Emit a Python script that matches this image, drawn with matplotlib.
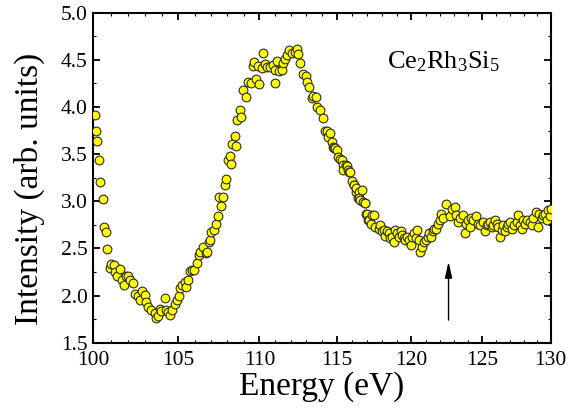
import numpy as np
import matplotlib
matplotlib.use("Agg")
import matplotlib.pyplot as plt
from matplotlib.ticker import FixedLocator, FixedFormatter, NullFormatter, MultipleLocator, FormatStrFormatter

plt.rcParams['font.family'] = ['Liberation Serif', 'DejaVu Serif']
plt.rcParams['mathtext.fontset'] = 'custom'
plt.rcParams['mathtext.rm'] = 'Liberation Serif'

# photon energy (eV) and intensity
energy = [100.08, 100.14, 100.23, 100.31, 100.40, 100.54, 100.62, 100.71, 100.81, 100.95,
          101.04, 101.18, 101.25, 101.37, 101.53, 101.68, 101.76, 101.88, 102.03, 102.15,
          102.30, 102.40, 102.60, 102.70, 102.85, 103.00, 103.09, 103.19, 103.38, 103.59,
          103.68, 103.78, 103.88, 103.98, 104.18, 104.24, 104.38, 104.48, 104.63, 104.78,
          104.92, 105.04, 105.12, 105.24, 105.38, 105.48, 105.58, 105.68, 105.84, 105.96,
          106.13, 106.25, 106.33, 106.49, 106.66, 106.74, 106.86, 106.94, 107.01, 107.15,
          107.28, 107.42, 107.48, 107.62, 107.72, 107.83, 107.89, 108.03, 108.14, 108.24,
          108.30, 108.45, 108.51, 108.59, 108.76, 108.86, 108.99, 109.15, 109.30, 109.44,
          109.61, 109.64, 109.77, 109.93, 109.99, 110.14, 110.22, 110.36, 110.46, 110.67,
          110.84, 110.99, 111.01, 111.10, 111.26, 111.42, 111.52, 111.63, 111.78, 111.91,
          112.06, 112.27, 112.38, 112.49, 112.60, 112.81, 112.98, 113.03, 113.19, 113.35,
          113.45, 113.63, 113.71, 113.88, 114.10, 114.21, 114.32, 114.43, 114.55, 114.66,
          114.71, 114.81, 114.86, 114.99, 115.10, 115.19, 115.32, 115.40, 115.43, 115.61,
          115.67, 115.76, 115.80, 115.87, 115.99, 116.11, 116.14, 116.24, 116.27, 116.40,
          116.43, 116.49, 116.50, 116.65, 116.76, 116.84, 116.88, 116.96, 116.99, 117.06,
          117.10, 117.26, 117.33, 117.44, 117.56, 117.78, 117.90, 118.01, 118.12, 118.24,
          118.35, 118.47, 118.58, 118.69, 118.81, 118.92, 119.04, 119.15, 119.27, 119.38,
          119.50, 119.61, 119.73, 119.84, 119.96, 120.07, 120.19, 120.31, 120.43, 120.54,
          120.61, 120.78, 120.90, 121.02, 121.14, 121.25, 121.37, 121.49, 121.61, 121.73,
          121.85, 121.97, 122.09, 122.21, 122.44, 122.68, 122.84, 123.03, 123.15, 123.27,
          123.39, 123.63, 123.74, 123.86, 123.98, 124.10, 124.22, 124.34, 124.58, 124.70,
          124.82, 125.06, 125.18, 125.30, 125.42, 125.55, 125.67, 125.79, 125.91, 126.03,
          126.15, 126.27, 126.39, 126.51, 126.63, 126.76, 126.88, 127.00, 127.12, 127.32,
          127.49, 127.61, 127.73, 127.85, 127.98, 128.10, 128.22, 128.46, 128.59, 128.71,
          128.88, 129.03, 129.13, 129.32, 129.45, 129.57, 129.70, 129.82, 129.94, 130.00]
intensity = [3.91, 3.75, 3.64, 3.44, 3.20, 3.02, 2.73, 2.67, 2.49, 2.29,
             2.33, 2.32, 2.25, 2.21, 2.28, 2.16, 2.11, 2.21, 2.21, 2.16,
             2.13, 2.02, 1.99, 1.95, 2.05, 2.01, 1.93, 1.88, 1.85, 1.81,
             1.76, 1.78, 1.86, 1.84, 1.97, 1.85, 1.83, 1.79, 1.85, 1.91,
             1.95, 1.99, 2.08, 2.11, 2.14, 2.09, 2.16, 2.26, 2.27, 2.27,
             2.34, 2.43, 2.46, 2.52, 2.45, 2.46, 2.57, 2.59, 2.67, 2.70,
             2.76, 2.84, 3.04, 2.95, 3.05, 3.17, 3.24, 3.44, 3.48, 3.39,
             3.61, 3.69, 3.59, 3.86, 3.97, 3.89, 4.18, 4.11, 4.26, 4.25,
             4.43, 4.48, 4.30, 4.43, 4.24, 4.41, 4.57, 4.46, 4.42, 4.42,
             4.44, 4.39, 4.25, 4.49, 4.38, 4.39, 4.47, 4.51, 4.55, 4.60,
             4.57, 4.58, 4.62, 4.56, 4.47, 4.35, 4.33, 4.26, 4.21, 4.09,
             4.12, 4.11, 4.00, 3.97, 3.88, 3.75, 3.74, 3.68, 3.72, 3.63,
             3.58, 3.56, 3.56, 3.54, 3.47, 3.45, 3.44, 3.38, 3.33, 3.38,
             3.37, 3.33, 3.31, 3.31, 3.22, 3.17, 3.17, 3.10, 3.14, 3.03,
             3.10, 3.03, 3.01, 3.12, 2.99, 2.98, 2.98, 2.87, 2.87, 2.80,
             2.80, 2.76, 2.85, 2.85, 2.73, 2.71, 2.75, 2.68, 2.69, 2.63,
             2.68, 2.66, 2.61, 2.62, 2.57, 2.69, 2.66, 2.62, 2.68, 2.64,
             2.61, 2.59, 2.62, 2.59, 2.54, 2.62, 2.66, 2.61, 2.69, 2.59,
             2.46, 2.52, 2.57, 2.59, 2.62, 2.66, 2.62, 2.68, 2.71, 2.71,
             2.76, 2.80, 2.87, 2.82, 2.97, 2.84, 2.92, 2.94, 2.85, 2.78,
             2.82, 2.85, 2.66, 2.76, 2.80, 2.73, 2.82, 2.80, 2.84, 2.76,
             2.75, 2.78, 2.68, 2.75, 2.76, 2.78, 2.73, 2.75, 2.80, 2.76,
             2.73, 2.62, 2.69, 2.75, 2.68, 2.73, 2.76, 2.78, 2.71, 2.75,
             2.78, 2.85, 2.75, 2.71, 2.80, 2.76, 2.80, 2.78, 2.75, 2.82,
             2.89, 2.73, 2.87, 2.82, 2.85, 2.87, 2.80, 2.91, 2.84, 2.92]

xticks = [100, 105, 110, 115, 120, 125, 130]
arrow_energy = 122.6
arrow_from = 1.74
arrow_to = 2.36

fig = plt.figure(figsize=(5.78, 4.12), dpi=100)
ax = fig.add_axes([0.1614, 0.1682, 0.7914, 0.8010])

ax.plot(energy, intensity, 'o', ms=6.3, mfc='#ffff00', mec='#2a2a2a', mew=0.8, zorder=3)

# energy axis in the original is logarithmic
ax.set_xscale('log')
ax.set_xlim(100, 130)
ax.set_ylim(1.5, 5.0)
ax.xaxis.set_major_locator(FixedLocator(xticks))
ax.xaxis.set_major_formatter(FixedFormatter([str(t) for t in xticks]))
ax.xaxis.set_minor_locator(FixedLocator(np.arange(100, 131, 1)))
ax.xaxis.set_minor_formatter(NullFormatter())
ax.yaxis.set_major_locator(MultipleLocator(0.5))
ax.yaxis.set_minor_locator(MultipleLocator(0.25))
ax.yaxis.set_major_formatter(FormatStrFormatter('%.1f'))

ax.tick_params(which='both', direction='in', top=True, right=True, labelsize=15.5)
ax.tick_params(which='major', length=5, width=1.3)
ax.tick_params(which='minor', length=2.5, width=0.8)
ax.tick_params(axis='x', pad=6)
ax.tick_params(axis='y', pad=4)
for s in ax.spines.values():
    s.set_linewidth(1.5)

ax.set_xlabel('Energy (eV)', fontsize=24, labelpad=1)
ax.set_ylabel('Intensity (arb. units)', fontsize=24)
ax.yaxis.set_label_coords(-0.105, 0.465)

ax.text(0.641, 0.831, r'$\mathregular{Ce_2Rh_3Si_5}$', transform=ax.transAxes,
        fontsize=19, va='baseline', ha='left')

ax.annotate('', xy=(arrow_energy, arrow_to), xytext=(arrow_energy, arrow_from),
            arrowprops=dict(arrowstyle='-|>,head_length=0.8,head_width=0.18',
                            color='black', lw=1.0, mutation_scale=12, shrinkA=0, shrinkB=0))

fig.savefig('out.png', dpi=100)
